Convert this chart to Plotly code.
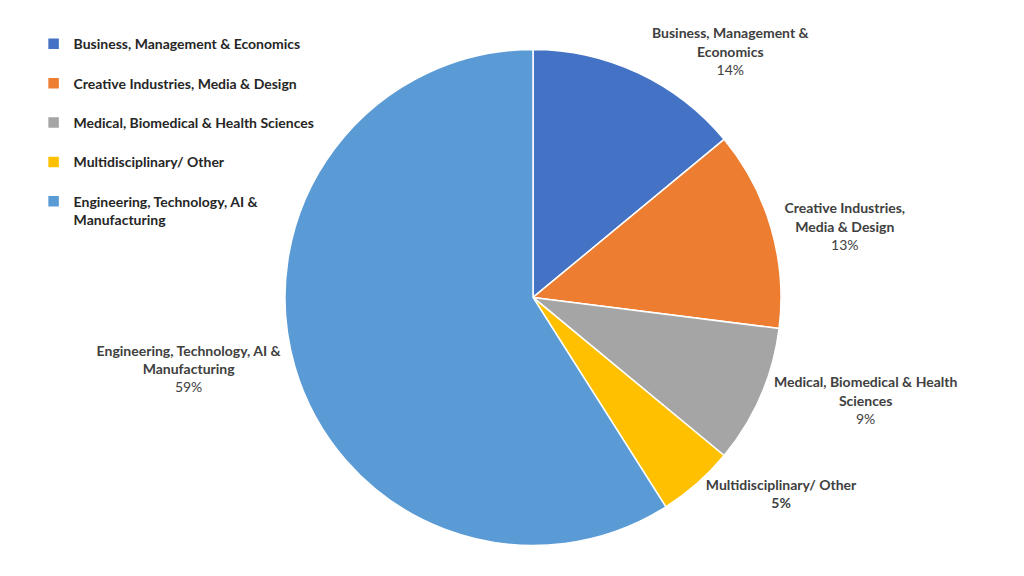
import plotly.graph_objects as go

# legend names (with extra blank line to space items like the original)
categories = [
    "Business, Management & Economics",
    "Creative Industries, Media & Design",
    "Medical, Biomedical & Health Sciences",
    "Multidisciplinary/ Other",
    "Engineering, Technology, AI &<br>Manufacturing",
]
# labels next to the slices
slice_labels = [
    "Business, Management &<br>Economics",
    "Creative Industries,<br>Media & Design",
    "Medical, Biomedical & Health<br>Sciences",
    "Multidisciplinary/ Other",
    "Engineering, Technology, AI &<br>Manufacturing",
]
shares = [14, 13, 9, 5, 59]
colors = ["#4472C4", "#ED7D31", "#A5A5A5", "#FFC000", "#5B9BD5"]

spacer = "<br><span style='font-size:16px'> </span>"
legend_names = [c + spacer for c in categories[:-1]] + [categories[-1]]
templates = ["<b>%{text}</b><br>%{percent:.0%}"] * 5
templates[3] = "<b>%{text}<br>%{percent:.0%}</b>"

fig = go.Figure(go.Pie(
    labels=legend_names,
    values=shares,
    text=slice_labels,
    texttemplate=templates,
    textposition="outside",
    textfont=dict(family="Lato", size=14, color="#404040"),
    marker=dict(colors=colors, line=dict(color="white", width=1.5)),
    sort=False,
    direction="clockwise",
    rotation=0,
    domain=dict(x=[0.2705, 0.7549], y=[0.066, 0.929]),
    hoverinfo="label+percent",
))

fig.update_layout(
    width=1024, height=576,
    margin=dict(l=0, r=0, t=0, b=0),
    paper_bgcolor="white",
    font=dict(family="Lato", color="#262626"),
    legend=dict(
        x=0.025, y=0.965, xanchor="left", yanchor="top",
        bgcolor="rgba(0,0,0,0)",
        font=dict(family="Lato", size=14, color="#262626", weight="bold"),
        valign="top",
        itemwidth=30,
    ),
)

fig.write_html("out.html")
